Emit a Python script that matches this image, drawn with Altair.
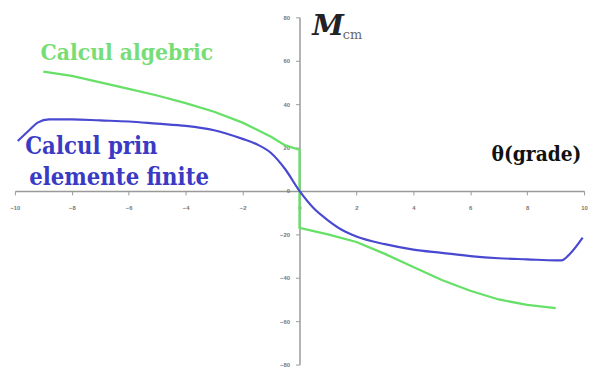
import altair as alt
import pandas as pd

# Calcul algebric (green) – ordered points incl. the jump at 0
alg_x = [-9, -8, -7, -6, -5, -4, -3, -2, -1, -0.5, 0, 0, 0.5, 1, 2, 3, 4, 5, 6, 7, 8, 9]
alg_y = [55, 53, 50, 47, 44, 40.5, 36.5, 31.5, 25, 21, 19, -17, -18.5, -20, -23.5, -29, -35, -41, -46, -50, -52.5, -54]

# Calcul prin elemente finite (blue)
fem_x = [-9.9, -9.5, -9.2, -8.8, -8, -7, -6, -5, -4, -3, -2, -1.5, -1, -0.5, 0,
         0.5, 1, 1.5, 2, 3, 4, 5, 6, 7, 8, 9, 9.2, 9.5, 9.95]
fem_y = [23, 28, 31.5, 33, 33, 32.5, 32, 31, 30, 28, 24, 21.5, 17.5, 10, 0,
         -8, -13.5, -18, -21, -24.5, -27, -28.5, -30, -31, -31.5, -32, -32, -29, -21.5]

x_ticks = [-10, -8, -6, -4, -2, 0, 2, 4, 6, 8, 10]
y_ticks = [-80, -60, -40, -20, 0, 20, 40, 60, 80]

W, H = 577, 352

alg = pd.DataFrame({"x": alg_x, "y": alg_y, "o": range(len(alg_x))})
fem = pd.DataFrame({"x": fem_x, "y": fem_y})

xs = alt.Scale(domain=[-10, 10], nice=False, zero=False)
ys = alt.Scale(domain=[-80, 80], nice=False, zero=False)

xax = alt.Axis(values=x_ticks, grid=False, offset=-H / 2, domainColor="#999999",
               domainWidth=1.5, tickColor="#999999", tickSize=4, labelFontSize=6,
               labelColor="#777777", labelFontWeight="bold", labelPadding=10,
               labelFlush=False, labelOverlap=False, title=None)
yax = alt.Axis(values=y_ticks, grid=False, offset=-W / 2, domainColor="#999999",
               domainWidth=1.5, tickColor="#999999", tickSize=4, labelFontSize=6,
               labelColor="#777777", labelFontWeight="bold", labelPadding=6,
               labelOverlap=False, title=None)

base_axes = alt.Chart(fem).mark_line(opacity=0).encode(
    x=alt.X("x:Q", scale=xs, axis=xax),
    y=alt.Y("y:Q", scale=ys, axis=yax),
)

green = alt.Chart(alg).mark_line(color="#66e066", strokeWidth=2.3).encode(
    x=alt.X("x:Q", scale=xs), y=alt.Y("y:Q", scale=ys), order="o:Q")

blue = alt.Chart(fem).mark_line(color="#4848d0", strokeWidth=2.2, interpolate="monotone").encode(
    x=alt.X("x:Q", scale=xs), y=alt.Y("y:Q", scale=ys))

labels = pd.DataFrame({
    "x": [-9.1, -9.64, -9.5, 6.75, 0.45, 1.52],
    "y": [60.5, 17.0, 2.9, 13.6, 71.8, 70.0],
    "t": ["Calcul algebric", "Calcul prin", "elemente finite", "θ(grade)", "M", "cm"],
})

SERIF = "DejaVu Serif"
COND = "DejaVu Serif Condensed, DejaVu Serif"

def txt(i, color, size, font, weight="bold", style="normal"):
    d = labels.iloc[[i]]
    return alt.Chart(d).mark_text(align="left", baseline="alphabetic", font=font,
                                  fontSize=size, fontWeight=weight, fontStyle=style,
                                  color=color).encode(
        x=alt.X("x:Q", scale=xs), y=alt.Y("y:Q", scale=ys), text="t:N")

texts = (txt(0, "#77dd77", 23, COND, "bold")
         + txt(1, "#3a3ac4", 24, COND) + txt(2, "#3a3ac4", 24, COND)
         + txt(3, "#111111", 21, COND) + txt(4, "#222222", 29, SERIF, "bold", "italic")
         + txt(5, "#666666", 13, SERIF, "normal"))

chart = alt.layer(base_axes, green, blue, texts).properties(
    width=W, height=H,
    autosize=alt.AutoSizeParams(type="none"),
    padding={"left": 7, "top": 7, "right": 6, "bottom": 3},
).configure_view(stroke=None)

chart.save("out.html", embed_options={"renderer": "svg", "actions": False})
